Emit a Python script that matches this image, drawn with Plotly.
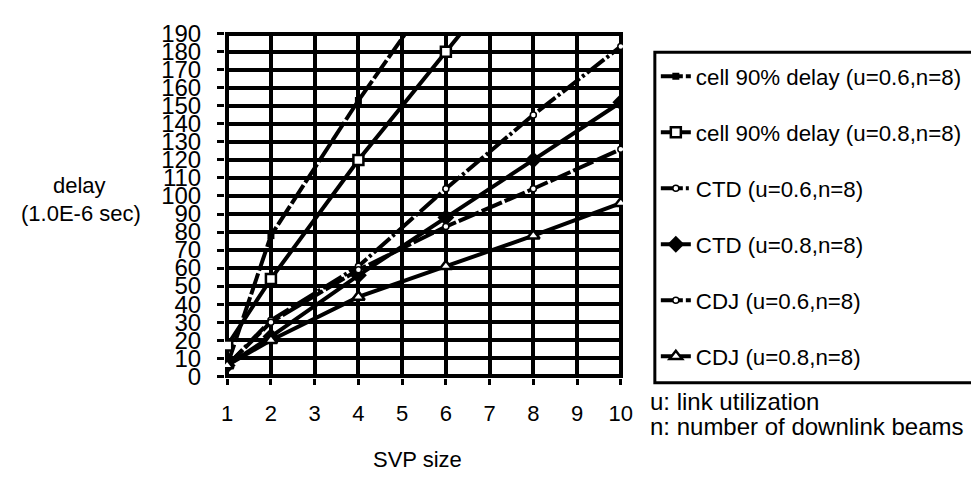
import plotly.graph_objects as go

# ---- data ----
svp_cell_u06 = [1, 2, 4, 6]
cell_u06 = [6, 78, 153, 222]
svp_cell_u08 = [1, 2, 4, 6, 8]
cell_u08 = [17, 54, 120, 180, 240]
svp = [1, 2, 4, 6, 8, 10]
ctd_u06 = [6, 31, 61, 104, 145, 183]
ctd_u08 = [6, 22, 56, 88, 120, 152]
cdj_u06 = [6, 30, 59, 83, 104, 126]
cdj_u08 = [6, 20, 44, 61, 78, 96]

x_ticks = [1, 2, 3, 4, 5, 6, 7, 8, 9, 10]
y_ticks = list(range(0, 200, 10))

names = [
    "cell 90% delay (u=0.6,n=8)",
    "cell 90% delay (u=0.8,n=8)",
    "CTD (u=0.6,n=8)",
    "CTD (u=0.8,n=8)",
    "CDJ (u=0.6,n=8)",
    "CDJ (u=0.8,n=8)",
]

FONT = "Liberation Sans, Arial, sans-serif"
OFF = 8  # page body margin
W, H = 979 - OFF, 482 - OFF
# plot area in page pixels: x 225..625, y 21..378
ML, MT = 225 - OFF, 21 - OFF
MR, MB = W - (625 - OFF), H - (378 - OFF)
PW, PH = W - ML - MR, H - MT - MB


def px(x):
    return (x - OFF - ML) / PW


def py(y):
    return 1 - (y - OFF - MT) / PH


series = [
    (svp_cell_u06, cell_u06, dict(symbol="square", size=7, color="black"), "22px,3px"),
    (svp_cell_u08, cell_u08, dict(symbol="square", size=10, color="white",
                                  line=dict(color="black", width=2.5)), "solid"),
    (svp, ctd_u06, dict(symbol="circle", size=6, color="white",
                        line=dict(color="black", width=1.5)), "22px,3px,3px,3px"),
    (svp, ctd_u08, dict(symbol="diamond", size=13, color="black"), "solid"),
    (svp, cdj_u06, dict(symbol="circle", size=6, color="white",
                        line=dict(color="black", width=1.5)), "22px,3px"),
    (svp, cdj_u08, dict(symbol="triangle-up", size=11, color="white",
                        line=dict(color="black", width=2.5)), "solid"),
]

fig = go.Figure()
for i, (xs, ys, mk, dash) in enumerate(series):
    fig.add_trace(go.Scatter(
        x=xs, y=ys, name=names[i], mode="lines+markers",
        line=dict(color="black", width=4, dash=dash),
        marker=mk, legendgroup=f"g{i}",
    ))

fig.update_layout(
    width=W, height=H,
    margin=dict(l=ML, r=MR, t=MT, b=MB),
    paper_bgcolor="white", plot_bgcolor="white",
    font=dict(family=FONT, color="black", size=20),
    showlegend=True,
    legend=dict(
        x=px(658), y=py(45), xanchor="left", yanchor="top",
        borderwidth=0, bgcolor="rgba(0,0,0,0)",
        font=dict(family=FONT, size=22.3, color="black"),
        tracegroupgap=24, itemwidth=30,
    ),
    shapes=[
        dict(type="rect", xref="paper", yref="paper",
             x0=px(657), x1=px(977), y0=py(383), y1=py(42),
             line=dict(color="black", width=3), fillcolor="rgba(0,0,0,0)"),
    ],
    xaxis=dict(
        range=[0.95, 10.05], tickvals=x_ticks, ticktext=[str(v) for v in x_ticks],
        showgrid=True, gridcolor="black", gridwidth=3.5, zeroline=False,
        ticks="outside", ticklen=6, tickwidth=3, tickcolor="black",
        tickfont=dict(family=FONT, size=22), showline=False,
        ticklabelstandoff=10,
    ),
    yaxis=dict(
        range=[-1, 191], tickvals=y_ticks, ticktext=[str(v) for v in y_ticks],
        showgrid=True, gridcolor="black", gridwidth=3.5, zeroline=False,
        ticks="outside", ticklen=7, tickwidth=3, tickcolor="black",
        tickfont=dict(family=FONT, size=24), showline=False,
        ticklabelstandoff=11,
    ),
    annotations=[
        dict(text="delay", x=px(79), y=py(179), xref="paper", yref="paper",
             showarrow=False, font=dict(size=22), xanchor="center", yanchor="middle"),
        dict(text="(1.0E-6 sec)", x=px(80), y=py(208), xref="paper", yref="paper",
             showarrow=False, font=dict(size=22), xanchor="center", yanchor="middle"),
        dict(text="SVP size", x=px(418), y=py(462), xref="paper", yref="paper",
             showarrow=False, font=dict(size=22), xanchor="center", yanchor="middle"),
        dict(text="u: link utilization", x=px(650), y=py(402), xref="paper", yref="paper",
             showarrow=False, font=dict(size=24), xanchor="left", yanchor="middle"),
        dict(text="n: number of downlink beams", x=px(650), y=py(428), xref="paper",
             yref="paper", showarrow=False, font=dict(size=24), xanchor="left",
             yanchor="middle"),
    ],
)

fig.write_html("out.html")
